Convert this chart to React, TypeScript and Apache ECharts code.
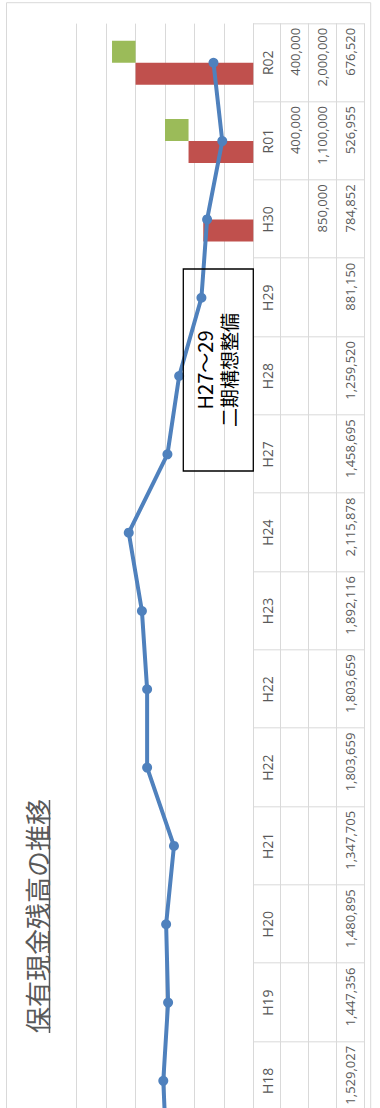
import React, { useEffect, useRef } from "react";
import * as echarts from "echarts";

// H17 lies just beyond the picture's lower edge; only its line segment shows.
const categories = ["H17", "H18", "H19", "H20", "H21", "H22", "H22", "H23", "H24", "H27", "H28", "H29", "H30", "R01", "R02"];
const greenValues: (number | null)[] = [null, null, null, null, null, null, null, null, null, null, null, null, null, 400000, 400000];
const redValues: (number | null)[] = [null, null, null, null, null, null, null, null, null, null, null, null, 850000, 1100000, 2000000];
const cashValues = [1470000, 1529027, 1447356, 1480895, 1347705, 1803659, 1803659, 1892116, 2115878, 1458695, 1259520, 881150, 784852, 526955, 676520];
const titleText = "保有現金残高の推移";
const noteLines = ["H27～29", "二期構想整備"];

const X0 = 110.33; // chart-space offset of the visible right part
const W = 1108 + X0;
const H = 380;
const GRAY = "#d9d9d9";
const TEXT = "#595959";

const fmt = (v: number | null) => (v == null ? "" : v.toLocaleString("en-US"));

export default function App() {
  const ref = useRef<HTMLDivElement>(null);
  useEffect(() => {
    if (!ref.current) return;
    const chart = echarts.init(ref.current, null, { renderer: "svg" });
    const gridBottom = 126.7;
    const rowOffsets = [27.4, 55, 82.7, 110.7];
    const rows = [greenValues, redValues, cashValues];
    const rowAxes = rowOffsets.map((off, k) => ({
      type: "category",
      data: categories,
      position: "bottom",
      offset: off,
      axisLine: { show: true, lineStyle: { color: GRAY, width: 1 } },
      axisTick: { show: false },
      axisLabel: {
        show: k < 3,
        interval: 0,
        margin: 13.8,
        verticalAlign: "middle",
        formatter: (_v: string, i: number) => {
          if (k >= 3 || i === 0) return "";
          const s = fmt(rows[k][i] as number | null);
          return s ? "{r|" + s + "}" : "";
        },
        rich: { r: { width: 70, align: "right", fontSize: 13, color: TEXT, fontFamily: "Open Sans" } },
      },
    }));
    const baseValues = redValues.map((v, i) => (greenValues[i] != null ? v : null));
    chart.setOption({
      animation: false,
      backgroundColor: "#ffffff",
      grid: { left: 20, right: W - (X0 + 1084.7), top: 76.7, bottom: gridBottom, containLabel: false },
      xAxis: [
        {
          type: "category",
          data: categories,
          position: "bottom",
          boundaryGap: true,
          axisLine: { show: true, lineStyle: { color: GRAY, width: 1 } },
          axisTick: { show: true, interval: 0, length: 110.7, lineStyle: { color: GRAY, width: 1 } },
          axisLabel: {
            interval: 0,
            margin: 14,
            verticalAlign: "middle",
            fontSize: 14,
            color: TEXT,
            fontFamily: "Open Sans",
            formatter: (v: string, i: number) => (i === 0 ? "" : v),
          },
        },
        ...rowAxes,
      ],
      yAxis: {
        type: "value",
        min: 0,
        max: 3000000,
        interval: 500000,
        axisLabel: { show: false },
        axisLine: { show: false },
        axisTick: { show: false },
        splitLine: { show: true, lineStyle: { color: GRAY, width: 1 } },
      },
      series: [
        {
          type: "bar",
          name: "red",
          stack: "r",
          data: redValues,
          barWidth: 22,
          barGap: "0%",
          itemStyle: { color: "#c0504d" },
        },
        {
          type: "bar",
          name: "base",
          stack: "g",
          data: baseValues,
          barWidth: 22,
          barGap: "0%",
          itemStyle: { color: "rgba(0,0,0,0)" },
          silent: true,
        },
        {
          type: "bar",
          name: "green",
          stack: "g",
          data: greenValues,
          barWidth: 22,
          barGap: "0%",
          itemStyle: { color: "#9bbb59" },
        },
        {
          type: "line",
          name: "cash",
          data: cashValues,
          symbol: "circle",
          symbolSize: 10,
          lineStyle: { color: "#4f81bd", width: 4 },
          itemStyle: { color: "#4f81bd" },
          z: 5,
        },
      ],
      graphic: [
        {
          type: "rect",
          shape: { x: 1, y: 6.5, width: X0 + 1105.3 - 1, height: 364.2 },
          style: { fill: "none", stroke: GRAY, lineWidth: 1 },
          silent: true,
        },
        {
          type: "text",
          x: X0 + 75,
          y: 36.5,
          style: {
            text: titleText,
            fontSize: 26,
            fill: TEXT,
            fontFamily: "Noto Sans CJK JP",
            align: "left",
            verticalAlign: "middle",
          },
        },
        {
          type: "line",
          shape: { x1: X0 + 75, y1: 49.5, x2: X0 + 308, y2: 49.5 },
          style: { stroke: TEXT, lineWidth: 1.5 },
        },
        {
          type: "rect",
          shape: { x: X0 + 637, y: 183.3, width: 202, height: 70 },
          style: { fill: "none", stroke: "#000000", lineWidth: 1.3 },
          z: 10,
        },
        {
          type: "text",
          x: X0 + 738,
          y: 204,
          z: 10,
          style: {
            text: noteLines[0],
            fontSize: 20,
            fill: "#000000",
            fontFamily: "Noto Sans CJK JP",
            align: "center",
            verticalAlign: "middle",
          },
        },
        {
          type: "text",
          x: X0 + 738,
          y: 228.5,
          z: 10,
          style: {
            text: noteLines[1],
            fontSize: 19,
            fill: "#000000",
            fontFamily: "Noto Sans CJK JP",
            align: "center",
            verticalAlign: "middle",
          },
        },
      ],
    });
    return () => chart.dispose();
  }, []);
  return (
    <div style={{ position: "fixed", left: 0, top: 0, width: 380, height: 1108, overflow: "hidden", background: "#ffffff" }}>
      <div
        ref={ref}
        style={{
          position: "absolute",
          left: 0,
          top: 0,
          width: W,
          height: H,
          transformOrigin: "0 0",
          transform: `translateY(${W}px) rotate(-90deg)`,
        }}
      />
    </div>
  );
}
